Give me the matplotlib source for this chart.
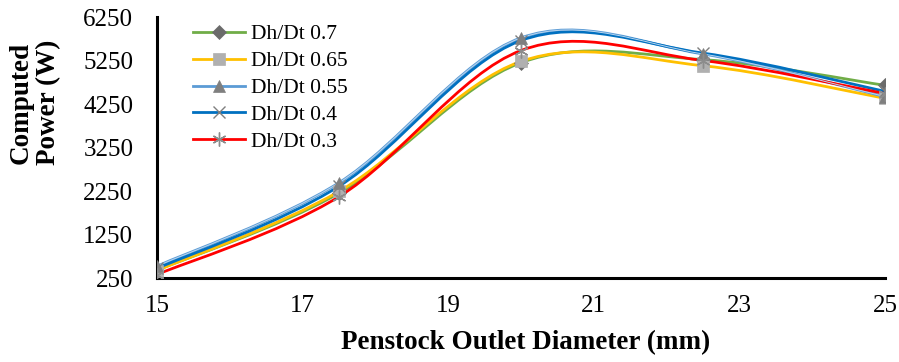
import matplotlib
matplotlib.use("Agg")
import matplotlib.pyplot as plt
import numpy as np
from matplotlib.path import Path
from matplotlib.patches import PathPatch
from matplotlib.lines import Line2D

# Data
diameters = [15, 17.5, 20, 22.5, 25]
series_names = ['Dh/Dt 0.7', 'Dh/Dt 0.65', 'Dh/Dt 0.55', 'Dh/Dt 0.4', 'Dh/Dt 0.3']
power_07 = [430, 2200, 5200, 5270, 4680]
power_065 = [420, 2240, 5230, 5130, 4380]
power_055 = [520, 2440, 5770, 5400, 4420]
power_04 = [470, 2360, 5710, 5420, 4540]
power_03 = [330, 2120, 5480, 5250, 4490]

x_ticks = [15, 17, 19, 21, 23, 25]
y_ticks = [250, 1250, 2250, 3250, 4250, 5250, 6250]

line_colors = ['#70AD47', '#FFC000', '#5B9BD5', '#0070C0', '#FF0000']
markers = ['D', 's', '^', 'x', (6, 2, 0)]
marker_colors = ['#6b6b6b', '#b0b0b0', '#7f7f7f', '#7f7f7f', '#8c8c8c']
marker_sizes = [7, 8, 8, 9, 10]

plt.rcParams['font.family'] = ['Liberation Serif', 'DejaVu Serif']


def smooth_path(xs, ys):
    """Excel-like smoothed line: cubic Bezier through the points."""
    pts = np.column_stack([xs, ys]).astype(float)
    n = len(pts)
    verts = [pts[0]]
    codes = [Path.MOVETO]
    for i in range(n - 1):
        p0 = pts[i - 1] if i > 0 else pts[i]
        p1 = pts[i]
        p2 = pts[i + 1]
        p3 = pts[i + 2] if i + 2 < n else pts[i + 1]
        c1 = p1 + (p2 - p0) / 6.0
        c2 = p2 - (p3 - p1) / 6.0
        verts += [c1, c2, p2]
        codes += [Path.CURVE4] * 3
    return Path(verts, codes)


fig = plt.figure(figsize=(8.99, 3.62), dpi=100)
ax = fig.add_axes([0.1746, 0.232, 0.8098, 0.721])

all_series = [power_07, power_065, power_055, power_04, power_03]
handles = []
for vals, name, lc, mk, mc, ms in zip(all_series, series_names, line_colors,
                                      markers, marker_colors, marker_sizes):
    path = smooth_path(diameters, vals)
    ax.add_patch(PathPatch(path, facecolor='none', edgecolor=lc, lw=2.0,
                           zorder=2, capstyle='round'))
    if name == 'Dh/Dt 0.55':
        ax.add_patch(PathPatch(path, facecolor='none', edgecolor='#b9d6f0',
                               lw=0.7, zorder=2.1))
    mew = 1.0 if mk in ('x', (6, 2, 0)) else 0.5
    ax.plot(diameters, vals, linestyle='none', marker=mk, color=mc,
            markersize=ms, markeredgewidth=mew, zorder=3)
    handles.append(Line2D([], [], color=lc, lw=2.0, marker=mk,
                          markerfacecolor=mc, markeredgecolor=mc,
                          markersize=ms, markeredgewidth=mew))

ax.set_xlim(15, 25)
ax.set_ylim(250, 6250)
ax.set_xticks(x_ticks)
ax.set_yticks(y_ticks)
ax.tick_params(axis='both', length=0, labelsize=18)
ax.tick_params(axis='y', pad=17)
ax.tick_params(axis='x', pad=12)

for side in ['top', 'right']:
    ax.spines[side].set_visible(False)
for side in ['left', 'bottom']:
    ax.spines[side].set_linewidth(2.2)
    ax.spines[side].set_color('black')
ax.spines['left'].set_zorder(1)

fig.text(0.585, 1 - 343 / 362, 'Penstock Outlet Diameter (mm)', fontsize=19.5,
         fontweight='bold', ha='center', va='center')
fig.text(0.039, 0.716, 'Computed\nPower (W)', rotation=90, fontsize=19.5,
         fontweight='bold', ha='center', va='center', linespacing=1.1)

ax.legend(handles, series_names, loc='upper left',
          bbox_to_anchor=(0.038, 1.006), frameon=False, fontsize=15.5,
          handlelength=2.4, handletextpad=0.3, labelspacing=0.32,
          borderaxespad=0.0)

fig.savefig('out.png', dpi=100)
